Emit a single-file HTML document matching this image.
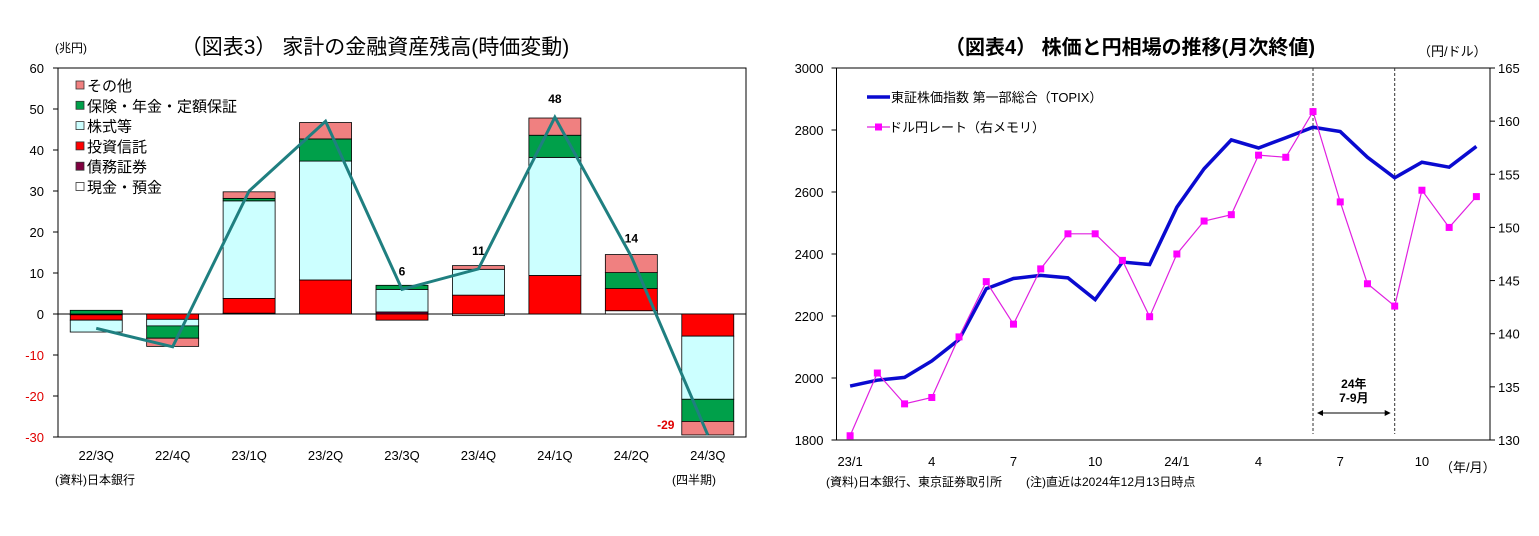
<!DOCTYPE html>
<html><head><meta charset="utf-8">
<style>
html,body{margin:0;padding:0;background:#fff;}
body{width:1539px;height:531px;overflow:hidden;font-family:"Liberation Sans","Noto Sans CJK JP",sans-serif;}
svg text{font-family:"Liberation Sans","Noto Sans CJK JP",sans-serif;}
</style></head>
<body>
<svg id="c" width="1539" height="531" xmlns="http://www.w3.org/2000/svg">
<text x="375" y="54" font-size="21" text-anchor="middle">（図表3）  家計の金融資産残高(時価変動)</text>
<text x="55" y="52" font-size="12">(兆円)</text>
<text x="55" y="484" font-size="12">(資料)日本銀行</text>
<text x="672" y="484" font-size="12">(四半期)</text>
<text x="1130" y="54" font-size="20" font-weight="bold" text-anchor="middle">（図表4） 株価と円相場の推移(月次終値)</text>
<text x="1418" y="56" font-size="13">（円/ドル）</text>
<text x="826" y="486" font-size="12">(資料)日本銀行、東京証券取引所　　(注)直近は2024年12月13日時点</text>
<text x="1440" y="472" font-size="13">（年/月）</text>
<g id="left"></g><g id="right"></g>
</svg>
<script>
// ---- Left chart data ----
const quarters=["22/3Q","22/4Q","23/1Q","23/2Q","23/3Q","23/4Q","24/1Q","24/2Q","24/3Q"];
const seriesNames=["現金・預金","債務証券","投資信託","株式等","保険・年金・定額保証","その他"];
const cash=[-0.2,0,0.2,0,0,-0.4,0,0.8,0];
const bonds=[0,0,0,0,0.5,0,0,0,0];
const trusts=[-1.3,-1.3,3.6,8.3,-1.5,4.6,9.4,5.4,-5.4];
const stocks=[-2.9,-1.6,23.8,29.0,5.5,6.3,28.8,0,-15.4];
const insurance=[0.9,-3.0,0.6,5.4,1.0,0,5.4,3.9,-5.4];
const others=[0,-2.0,1.6,4.0,0,0.9,4.2,4.4,-3.3];
const totals=[-3.5,-8,30,47,6,11,48,14,-29.5];
const totalLabels=["","","","","6","11","48","14","-29"];
const leftTicks=[60,50,40,30,20,10,0,-10,-20,-30];
// ---- Right chart data ----
const months=["23/1","23/2","23/3","23/4","23/5","23/6","23/7","23/8","23/9","23/10","23/11","23/12","24/1","24/2","24/3","24/4","24/5","24/6","24/7","24/8","24/9","24/10","24/11","24/12"];
const monthLabels=["23/1","","","4","","","7","","","10","","","24/1","","","4","","","7","","","10","",""];
const topix=[1974,1993,2002,2055,2124,2288,2321,2331,2323,2253,2374,2366,2551,2675,2768,2742,2775,2809,2795,2712,2646,2696,2680,2747];
const usdjpy=[130.4,136.3,133.4,134.0,139.7,144.9,140.9,146.1,149.4,149.4,146.9,141.6,147.5,150.6,151.2,156.8,156.6,160.9,152.4,144.7,142.6,153.5,150.0,152.9];
const leftAxisTicks=[3000,2800,2600,2400,2200,2000,1800];
const rightAxisTicks=[165,160,155,150,145,140,135,130];

const NS="http://www.w3.org/2000/svg";
function mk(parent,tag,attrs,txt){const e=document.createElementNS(NS,tag);for(const k in attrs)e.setAttribute(k,attrs[k]);if(txt!==undefined)e.textContent=txt;parent.appendChild(e);return e;}

// Left chart
(function(){
const g=document.getElementById('left');
const L=58,R=746,T=68,B=437,vmin=-30,vmax=60;
const y=v=>T+(vmax-v)/(vmax-vmin)*(B-T);
const bw=(R-L)/quarters.length;
const xc=i=>L+(i+0.5)*bw;
let r=mk(g,'rect',{x:L,y:T,width:R-L,height:B-T,fill:'none',stroke:'#000','stroke-width':1});

leftTicks.forEach(t=>{
 let tx=mk(g,'text',{x:L-14,y:y(t)+5,'font-size':13,'text-anchor':'end',fill:t<0?'#e00000':'#000'},t);
 
 let tk=mk(g,'line',{x1:L-5,x2:L,y1:y(t),y2:y(t),stroke:'#000'});
 
});
let zl=mk(g,'line',{x1:L,x2:R,y1:y(0),y2:y(0),stroke:'#000'});

const series=[cash,bonds,trusts,stocks,insurance,others];
const colors=['#ffffff','#800040','#ff0000','#ccffff','#00a04a','#f08080'];
quarters.forEach((q,i)=>{
 let pos=0,neg=0;
 series.forEach((s,k)=>{
  const v=s[i];if(!v)return;
  let a,b;
  if(v>0){a=pos;b=pos+v;pos=b;}else{a=neg;b=neg+v;neg=b;}
  let rc=mk(g,'rect',{x:xc(i)-26,y:y(Math.max(a,b)),width:52,height:Math.abs(y(a)-y(b)),fill:colors[k],stroke:'#000','stroke-width':0.8});
  
 });
 let xl=mk(g,'text',{x:xc(i),y:460,'font-size':13,'text-anchor':'middle'},q);
 
 if(totalLabels[i]){
  const neg2=totals[i]<0;
  let vl=mk(g,'text',{x:neg2?xc(i)-42:xc(i),y:neg2?y(totals[i])-6:y(Math.max(totals[i],0))-14,'font-size':12,'font-weight':'bold','text-anchor':'middle',fill:neg2?'#e00000':'#000'},totalLabels[i]);
  
 }
});
let pts=totals.map((v,i)=>xc(i)+','+y(v)).join(' ');
let pl=mk(g,'polyline',{points:pts,fill:'none',stroke:'#1f7f80','stroke-width':3});

// legend
const lg=[['その他','#f08080'],['保険・年金・定額保証','#00a04a'],['株式等','#ccffff'],['投資信託','#ff0000'],['債務証券','#800040'],['現金・預金','#ffffff']];
lg.forEach((d,k)=>{
 const yy=86+k*20.3;
 let s=mk(g,'rect',{x:76,y:yy-5,width:8,height:8,fill:d[1],stroke:'#333','stroke-width':0.8});
 
 let t=mk(g,'text',{x:87,y:yy+5,'font-size':15},d[0]);
 
});
})();

// Right chart
(function(){
const g=document.getElementById('right');
const L=836.5,R=1490,T=68,B=440;
const yl=v=>T+(3000-v)/1200*(B-T);
const yr=v=>T+(165-v)/35*(B-T);
const bw=(R-L)/months.length;
const xc=i=>L+(i+0.5)*bw;
let r=mk(g,'rect',{x:L,y:T,width:R-L,height:B-T,fill:'none',stroke:'#000','stroke-width':1});

leftAxisTicks.forEach(t=>{
 let tx=mk(g,'text',{x:L-13,y:yl(t)+5,'font-size':13,'text-anchor':'end'},t);
 
 let tk=mk(g,'line',{x1:L-5,x2:L,y1:yl(t),y2:yl(t),stroke:'#000'});
 
});
rightAxisTicks.forEach(t=>{
 let tx=mk(g,'text',{x:R+8,y:yr(t)+5,'font-size':13},t);
 
 let tk=mk(g,'line',{x1:R,x2:R+5,y1:yr(t),y2:yr(t),stroke:'#000'});
 
});
monthLabels.forEach((m,i)=>{
 if(!m)return;
 let tx=mk(g,'text',{x:xc(i),y:466,'font-size':13,'text-anchor':'middle'},m);
 
});
[17,20].forEach(i=>{
 let dl=mk(g,'line',{x1:xc(i),x2:xc(i),y1:T,y2:B-6,stroke:'#333','stroke-width':1,'stroke-dasharray':'3,2'});
 
});
let a1=mk(g,'text',{x:(xc(17)+xc(20))/2,y:388,'font-size':12,'font-weight':'bold','text-anchor':'middle'},'24年');

let a2=mk(g,'text',{x:(xc(17)+xc(20))/2,y:402,'font-size':12,'font-weight':'bold','text-anchor':'middle'},'7-9月');

let ar=mk(g,'line',{x1:xc(17)+6,x2:xc(20)-6,y1:413,y2:413,stroke:'#000'});

let h1=mk(g,'path',{d:`M${xc(17)+4},413 l6,-3 v6 z M${xc(20)-4},413 l-6,-3 v6 z`,fill:'#000'});

let tp=mk(g,'polyline',{points:topix.map((v,i)=>xc(i)+','+yl(v)).join(' '),fill:'none',stroke:'#0a0ad0','stroke-width':3.5});

let fx=mk(g,'polyline',{points:usdjpy.map((v,i)=>xc(i)+','+yr(v)).join(' '),fill:'none',stroke:'#e020e0','stroke-width':1.2});

usdjpy.forEach((v,i)=>{
 let p=mk(g,'rect',{x:xc(i)-3.5,y:yr(v)-3.5,width:7,height:7,fill:'#ff00ff'});
 
});
let l1=mk(g,'line',{x1:867,x2:890,y1:97,y2:97,stroke:'#0a0ad0','stroke-width':3.5});

let t1=mk(g,'text',{x:891,y:102,'font-size':13},'東証株価指数  第一部総合（TOPIX）');

let l2=mk(g,'line',{x1:867,x2:890,y1:127,y2:127,stroke:'#e020e0','stroke-width':1.2});

let m2=mk(g,'rect',{x:875,y:123.5,width:7,height:7,fill:'#ff00ff'});

let t2=mk(g,'text',{x:889,y:132,'font-size':13},'ドル円レート（右メモリ）');

})();
</script>
</body></html>
